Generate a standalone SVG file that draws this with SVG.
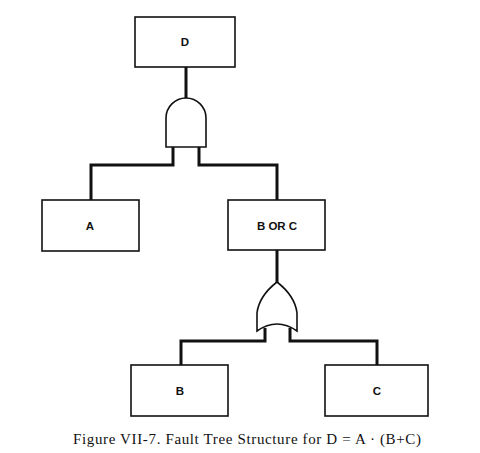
<svg xmlns="http://www.w3.org/2000/svg" width="480" height="453" viewBox="0 0 480 453">
<style>
.box{fill:#fff;stroke:#111;stroke-width:1.6}
.gate{fill:#fff;stroke:#111;stroke-width:1.6}
.con{fill:none;stroke:#111;stroke-width:3}
.lbl{font-family:"Liberation Sans",Arial,sans-serif;font-weight:bold;font-size:11.5px;fill:#111;text-anchor:middle}
.cap{font-family:"Liberation Serif","Times New Roman",serif;font-size:15px;fill:#111}
</style>
<rect width="480" height="453" fill="#fff"/>
<g id="connectors">
<path class="con" d="M186 67 V99"/>
<path class="con" d="M173 146 V165 H91 V200"/>
<path class="con" d="M199 146 V165 H277 V200"/>
<path class="con" d="M277 250 V283"/>
<path class="con" d="M265 328 V341 H181 V365"/>
<path class="con" d="M290 328 V341 H377 V365"/>
</g>
<g id="node-D"><rect class="box" x="135" y="17" width="100" height="50"/><text class="lbl" x="185" y="46">D</text></g>
<g id="gate-and"><path class="gate" d="M166 147 V118 A20 20 0 0 1 206 118 V147 Z"/></g>
<g id="node-A"><rect class="box" x="42" y="200" width="97" height="51"/><text class="lbl" x="90" y="230">A</text></g>
<g id="node-BorC"><rect class="box" x="228" y="200" width="97" height="50"/><text class="lbl" x="277" y="230">B OR C</text></g>
<g id="gate-or"><path class="gate" d="M277 282 Q259 296 257 313 V331 Q277 317 297 331 V313 Q295 296 277 282 Z"/></g>
<g id="node-B"><rect class="box" x="131" y="365" width="97" height="51"/><text class="lbl" x="180" y="395">B</text></g>
<g id="node-C"><rect class="box" x="325" y="365" width="103" height="51"/><text class="lbl" x="377" y="395">C</text></g>
<text class="cap" x="73" y="444" textLength="348" lengthAdjust="spacing">Figure VII-7. Fault Tree Structure for D = A · (B+C)</text>
</svg>
